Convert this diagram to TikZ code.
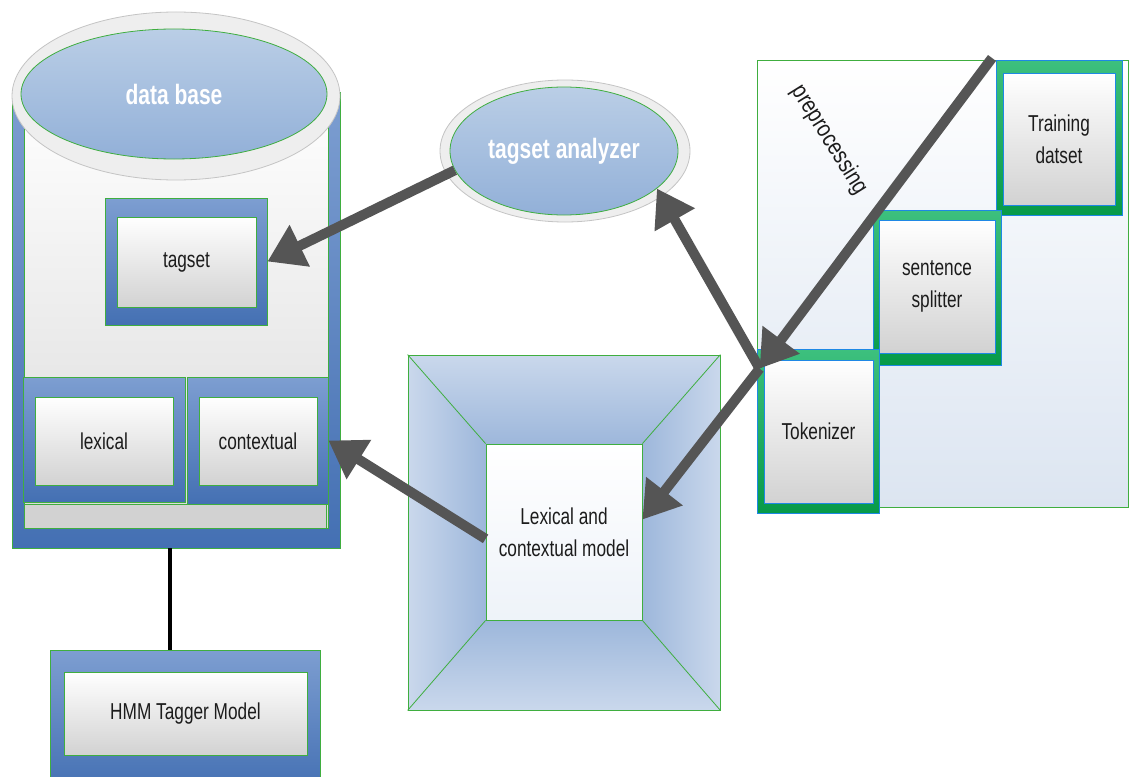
\documentclass[tikz,border=0pt]{standalone}
\usepackage{fontspec}
\setmainfont[FakeStretch=0.75]{Liberation Sans}
\newfontfamily\narrowsans[FakeStretch=0.82]{Liberation Sans}
\usetikzlibrary{shapes.geometric, positioning, arrows.meta}
\usepackage{xcolor}
\definecolor{BoxBlueTop}{HTML}{7D9ED1}
\definecolor{BoxBlueBot}{HTML}{4470B3}
\definecolor{BoxGrey}{HTML}{D2D2D2}
\definecolor{EdgeGreen}{HTML}{3FAE3F}
\definecolor{OvalTop}{HTML}{BACEE6}
\definecolor{OvalBot}{HTML}{92B0D8}
\definecolor{RingGrey}{HTML}{EEEEEE}
\definecolor{RingEdge}{HTML}{C4C4C4}
\definecolor{FrameLight}{HTML}{CAD8EC}
\definecolor{FrameDark}{HTML}{9DB7DB}
\definecolor{PanelBot}{HTML}{DCE5F1}
\definecolor{StepTop}{HTML}{3DC07E}
\definecolor{StepBot}{HTML}{079A48}
\definecolor{StepEdge}{HTML}{1E88E5}
\definecolor{ArrowGrey}{HTML}{555555}
\definecolor{TextDark}{HTML}{1C1C1C}

\begin{document}
\begin{tikzpicture}[x=1pt, y=-1pt,
    sz/.style 2 args={minimum width=#1pt, minimum height=#2pt, inner sep=0pt},
    bluebox/.style={draw=EdgeGreen, line width=0.8pt, top color=BoxBlueTop, bottom color=BoxBlueBot},
    greybox/.style={draw=EdgeGreen, line width=0.8pt, top color=white, bottom color=BoxGrey,
        font=\fontsize{23}{32}\selectfont, text=TextDark, align=center},
    stepframe/.style={draw=StepEdge, line width=0.8pt, top color=StepTop, bottom color=StepBot},
    stepbox/.style={greybox, draw=StepEdge},
    oval/.style={ellipse, draw=EdgeGreen, line width=0.8pt, top color=OvalTop, bottom color=OvalBot,
        font=\fontsize{28}{32}\selectfont\bfseries, text=white},
    ring/.style={ellipse, draw=RingEdge, line width=0.8pt, fill=RingGrey},
    flow/.style={draw=ArrowGrey, line width=10pt, -{Triangle[length=36pt, width=44pt]}},
    thinedge/.style={draw=EdgeGreen, line width=0.8pt}]
    \clip (0,0) rectangle (1129,776);
    \fill[white] (0,0) rectangle (1129,776);

    % data base
    \node[bluebox, sz={328}{456}] (dbbody) at (176,320) {};
    \shade[thinedge, top color=white, bottom color=BoxGrey!80] (24,92) rectangle (328,528);
    \node[thinedge, fill=BoxGrey, sz={302}{24}] (dbfoot) at (175,516) {};
    \node[ring, sz={328}{168}] (dbring) at (176,96) {};
    \node[oval, sz={306}{130}] (dbtop) at (174,94) {data base};

    \node[bluebox, sz={162}{127}] (tagsetbox) at (186,261.5) {};
    \node[greybox, sz={139}{90}] (tagset) at (186.5,262) {tagset};
    \node[bluebox, sz={162}{125}] (lexbox) at (104,439.5) {};
    \node[greybox, sz={138}{88}] (lex) at (104,441) {lexical};
    \node[bluebox, sz={141}{127}] (ctxbox) at (257.5,440.5) {};
    \node[greybox, sz={118}{88}] (ctx) at (258,441) {contextual};

    % HMM tagger
    \node[bluebox, sz={270}{140}] (hmmbox) at (185,720) {};
    \node[greybox, sz={243}{83}] (hmm) at (185.5,713.5) {HMM Tagger Model};
    \draw[line width=4pt] ([xshift=-15pt]hmmbox.north) -- ([xshift=-15pt]hmmbox.north |- dbbody.south);

    % tagset analyzer
    \node[ring, sz={250}{142}] (taganring) at (565,151) {};
    \node[oval, sz={228}{128}] (tagan) at (564,151) {tagset analyzer};

    % lexical and contextual model
    \shade[top color=FrameLight, bottom color=FrameDark] (408,355) -- (720,355) -- (642,444) -- (486,444) -- cycle;
    \shade[top color=FrameDark, bottom color=FrameLight] (486,620) -- (642,620) -- (720,710) -- (408,710) -- cycle;
    \shade[left color=FrameLight, right color=FrameDark] (408,355) -- (486,444) -- (486,620) -- (408,710) -- cycle;
    \shade[left color=FrameDark, right color=FrameLight] (642,444) -- (720,355) -- (720,710) -- (642,620) -- cycle;
    \node[thinedge, sz={312}{355}] (lcframe) at (564,532.5) {};
    \node[greybox, bottom color=OvalTop!25, sz={156}{176}] (lexmodel) at (564,532) {Lexical and\\contextual model};
    \foreach \c in {north west, north east, south west, south east}
        \draw[thinedge] (lcframe.\c) -- (lexmodel.\c);

    % preprocessing
    \node[thinedge, top color=white, bottom color=PanelBot, sz={371}{447}] (prepanel) at (942.5,283.5) {};
    \node[font=\narrowsans\fontsize{24}{26}\selectfont, text=TextDark, rotate=-58] (prelabel) at (829,140) {preprocessing};
    \node[stepframe, sz={126}{155}] (trainbox) at (1059,138) {};
    \node[stepbox, sz={112}{132}] (train) at (1059,139) {Training\\datset};
    \node[stepframe, sz={128}{155}] (splitbox) at (937,287.5) {};
    \node[stepbox, sz={116}{133}] (split) at (937,286.5) {sentence\\splitter};
    \node[stepframe, sz={122}{164}] (tokbox) at (818,431) {};
    \node[stepbox, sz={109}{143}] (tok) at (818.5,431.5) {Tokenizer};
    \coordinate (tokin) at ([xshift=3pt, yshift=-20pt]tokbox.north west);
    \coordinate (pretop) at (992,58);

    % Edges
    \draw[flow] (tagan.190) -- (tagsetbox.east);
    \draw[flow] (pretop) -- (tokin);
    \draw[flow] (tokin) -- (tagan.338);
    \draw[flow] (tokin) -- (lexmodel.9);
    \draw[flow] (lexmodel.185) -- (ctxbox.east);
\end{tikzpicture}
\end{document}
